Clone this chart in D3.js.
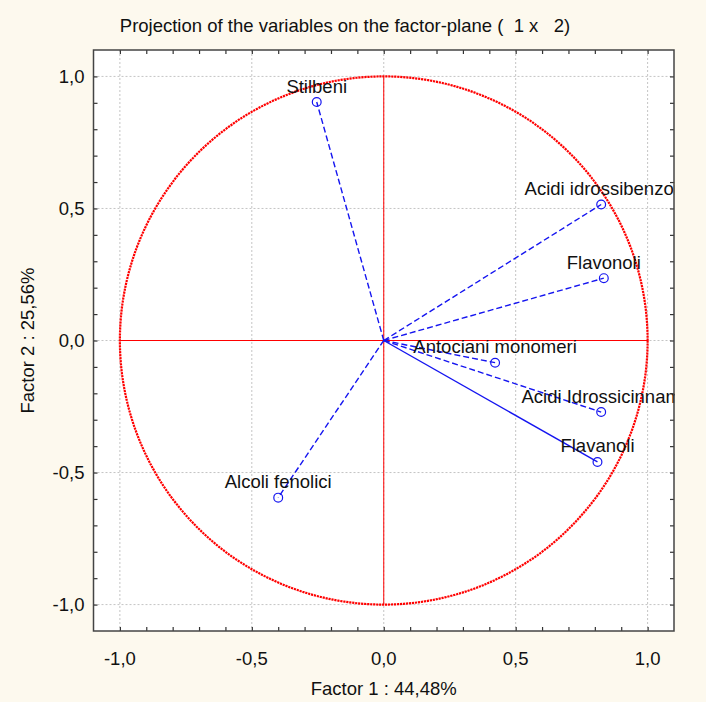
<!DOCTYPE html>
<html>
<head>
<meta charset="utf-8">
<script src="https://cdn.jsdelivr.net/npm/d3@7"></script>
<style>
  body { margin: 0; background: #fdf9ee; }
  text { font-family: "Liberation Sans", Arial, sans-serif; fill: #111; }
</style>
</head>
<body>
<div id="wrapper"></div>
<script>
// variables and their loadings on factor 1 / factor 2
const variables = ["Stilbeni", "Acidi idrossibenzoi", "Flavonoli", "Antociani monomeri",
    "Acidi Idrossicinnam", "Flavanoli", "Alcoli fenolici"];
const factor1 = [-0.254, 0.824, 0.834, 0.422, 0.824, 0.810, -0.400];
const factor2 = [0.903, 0.515, 0.236, -0.084, -0.271, -0.460, -0.595];
const majorTicks = [-1.0, -0.5, 0.0, 0.5, 1.0];
const solidLines = ["Flavanoli"];

const title = "Projection of the variables on the factor-plane (  1 x   2)";
const xTitle = "Factor 1 : 44,48%";
const yTitle = "Factor 2 : 25,56%";

function draw() {
    const dataset = variables.map((name, i) => ({name, f1: factor1[i], f2: factor2[i]}));

    let dimensions = {
        width: 706,
        height: 702,
        margin: {top: 50, right: 32, bottom: 71, left: 93.5}
    };
    dimensions.boundedWidth = dimensions.width - dimensions.margin.left - dimensions.margin.right;
    dimensions.boundedHeight = dimensions.height - dimensions.margin.top - dimensions.margin.bottom;

    const svg = d3.select("#wrapper").append("svg")
        .attr("width", dimensions.width)
        .attr("height", dimensions.height)
        .style("display", "block");

    svg.append("rect")
        .attr("width", dimensions.width)
        .attr("height", dimensions.height)
        .attr("fill", "#fdf9ee");

    const bounds = svg.append("g")
        .attr("transform", `translate(${dimensions.margin.left},${dimensions.margin.top})`);

    const xScale = d3.scaleLinear().domain([-1.1, 1.1]).range([0, dimensions.boundedWidth]);
    const yScale = d3.scaleLinear().domain([-1.1, 1.1]).range([dimensions.boundedHeight, 0]);

    bounds.append("rect")
        .attr("width", dimensions.boundedWidth)
        .attr("height", dimensions.boundedHeight)
        .attr("fill", "#ffffff");

    svg.append("clipPath").attr("id", "plot-clip")
        .append("rect")
        .attr("width", dimensions.boundedWidth + 1)
        .attr("height", dimensions.boundedHeight);

    // grid
    const grid = bounds.append("g")
        .attr("stroke", "#c4c4c4")
        .attr("stroke-width", 1)
        .attr("stroke-dasharray", "2,2");
    grid.selectAll(".gx").data(majorTicks).join("line")
        .attr("x1", d => xScale(d)).attr("x2", d => xScale(d))
        .attr("y1", 0).attr("y2", dimensions.boundedHeight);
    grid.selectAll(".gy").data(majorTicks).join("line")
        .attr("class", "gy")
        .attr("y1", d => yScale(d)).attr("y2", d => yScale(d))
        .attr("x1", 0).attr("x2", dimensions.boundedWidth);

    // unit circle and axes through origin
    bounds.append("line")
        .attr("x1", xScale(-1)).attr("x2", xScale(1))
        .attr("y1", yScale(0)).attr("y2", yScale(0))
        .attr("stroke", "#ff0000").attr("stroke-width", 1);
    bounds.append("line")
        .attr("x1", xScale(0)).attr("x2", xScale(0))
        .attr("y1", yScale(1)).attr("y2", yScale(-1))
        .attr("stroke", "#ff0000").attr("stroke-width", 1);
    bounds.append("ellipse")
        .attr("cx", xScale(0)).attr("cy", yScale(0))
        .attr("rx", xScale(1) - xScale(0))
        .attr("ry", yScale(0) - yScale(1))
        .attr("fill", "none")
        .attr("stroke", "#ff0000")
        .attr("stroke-width", 2.2)
        .attr("stroke-dasharray", "2.2,0.8");

    // vectors
    bounds.selectAll(".vec").data(dataset).join("line")
        .attr("class", "vec")
        .attr("x1", xScale(0)).attr("y1", yScale(0))
        .attr("x2", d => xScale(d.f1)).attr("y2", d => yScale(d.f2))
        .attr("stroke", "#1515f0")
        .attr("stroke-width", 1.4)
        .attr("stroke-dasharray", d => solidLines.includes(d.name) ? null : "6,3");
    bounds.selectAll(".pt").data(dataset).join("circle")
        .attr("class", "pt")
        .attr("cx", d => xScale(d.f1)).attr("cy", d => yScale(d.f2))
        .attr("r", 4.4)
        .attr("fill", "none")
        .attr("stroke", "#1515f0")
        .attr("stroke-width", 1.2);

    bounds.append("g").attr("clip-path", "url(#plot-clip)")
        .selectAll("text").data(dataset).join("text")
        .attr("x", d => xScale(d.f1))
        .attr("y", d => yScale(d.f2) - 9.5)
        .attr("text-anchor", "middle")
        .style("font-size", "18.5px")
        .text(d => d.name);

    // axes
    const fmt = d => d3.format(".1f")(d).replace(".", ",").replace("−", "-");
    const allTicks = d3.range(-10, 11).map(i => i / 10);
    const tickLen = 4;

    const axisBits = [
        {gen: d3.axisLeft(yScale), tr: "translate(0,0)"},
        {gen: d3.axisRight(yScale), tr: `translate(${dimensions.boundedWidth},0)`},
        {gen: d3.axisBottom(xScale), tr: `translate(0,${dimensions.boundedHeight})`},
        {gen: d3.axisTop(xScale), tr: "translate(0,0)"}
    ];
    axisBits.forEach(a => {
        const g = bounds.append("g")
            .attr("transform", a.tr)
            .call(a.gen.tickValues(allTicks).tickSize(-tickLen).tickFormat(""));
        g.select(".domain").remove();
        g.selectAll("line").attr("stroke", "#333").attr("stroke-width", 1.2);
    });

    // frame
    bounds.append("rect")
        .attr("width", dimensions.boundedWidth)
        .attr("height", dimensions.boundedHeight)
        .attr("fill", "none")
        .attr("stroke", "#444")
        .attr("stroke-width", 1.5);

    // tick labels
    bounds.selectAll(".ylab").data(majorTicks).join("text")
        .attr("class", "ylab")
        .attr("x", -9)
        .attr("y", d => yScale(d))
        .attr("dy", "0.35em")
        .attr("text-anchor", "end")
        .style("font-size", "18.5px")
        .text(fmt);
    bounds.selectAll(".xlab").data(majorTicks).join("text")
        .attr("class", "xlab")
        .attr("x", d => xScale(d))
        .attr("y", dimensions.boundedHeight + 34)
        .attr("text-anchor", "middle")
        .style("font-size", "18.5px")
        .text(fmt);

    // titles
    svg.append("text")
        .attr("x", 345).attr("y", 32)
        .attr("text-anchor", "middle")
        .style("font-size", "18.5px")
        .style("white-space", "pre")
        .text(title);
    svg.append("text")
        .attr("x", dimensions.margin.left + xScale(0)).attr("y", 695)
        .attr("text-anchor", "middle")
        .style("font-size", "18.5px")
        .text(xTitle);
    svg.append("text")
        .attr("transform", `translate(34,${dimensions.margin.top + yScale(0)}) rotate(-90)`)
        .attr("text-anchor", "middle")
        .style("font-size", "18.5px")
        .text(yTitle);
}

draw();
</script>
</body>
</html>
